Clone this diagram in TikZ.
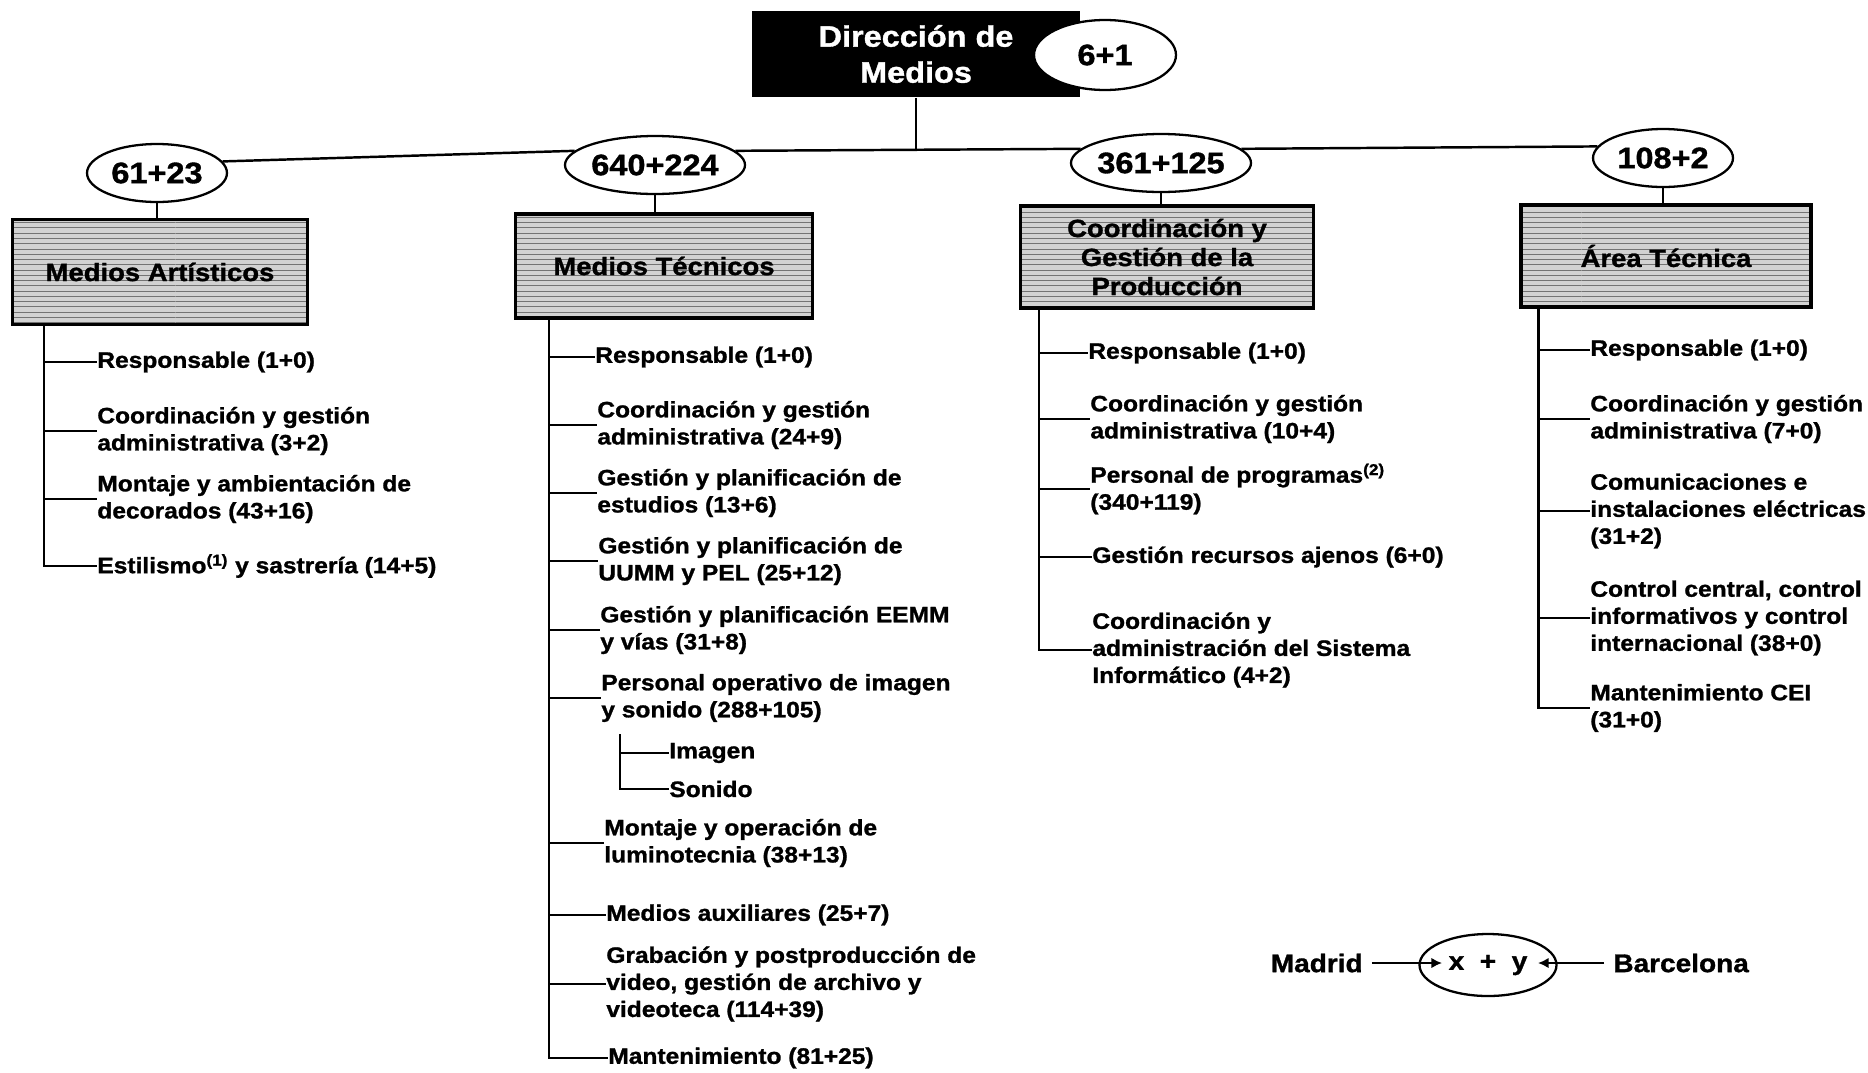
\documentclass[tikz,border=0pt]{standalone}
\usepackage{fontspec}
\newfontfamily\arialx{Liberation Sans}[FakeStretch=1.1, BoldFeatures={FakeBold=1.2}]
\usetikzlibrary{shapes.geometric,arrows.meta,calc,patterns}
\newcommand\itemfont{\arialx\bfseries\fontsize{12.7}{15.4}\selectfont}
\newcommand\titlefont{\arialx\bfseries\fontsize{14.2}{16.5}\selectfont}
\newcommand\numfont{\arialx\bfseries\fontsize{16.8}{20.5}\selectfont}
\newcommand\legfont{\arialx\bfseries\fontsize{14.5}{17}\selectfont}
\begin{document}
\begin{tikzpicture}[x=0.02cm,y=-0.02cm,
  conn/.style={line width=1.4pt},
  ell/.style={ellipse, draw, fill=white, line width=1.3pt, minimum width=2.8cm, minimum height=1.16cm, inner sep=0pt, font=\numfont},
  area/.style={draw, line width=1.9pt, preaction={fill=gray!35}, pattern=horizontal lines, pattern color=black!55, inner sep=0pt, align=center, font=\titlefont, minimum height=2.06cm},
  topbox/.style={fill=black, text=white, inner sep=0pt, align=center, font=\numfont, minimum width=6.56cm, minimum height=1.74cm},
  item/.style={anchor=west, inner sep=0pt, align=left, font=\itemfont},
  legend/.style={inner sep=0pt, font=\legfont}]
\path[use as bounding box, fill=white] (0,0) rectangle (1868,1072);

% top
\node[topbox] (top) at (916,54) {Dirección de\\Medios};
\node[ell, minimum width=2.84cm, minimum height=1.4cm] (e0) at (1105,55) {6+1};

% sub-totals
\node[ell] (e1) at (157,173) {61+23};
\node[ell] (e2) at (655,165) {640+224};
\node[ell] (e3) at (1161,163) {361+125};
\node[ell] (e4) at (1663,158) {108+2};

% areas
\node[area, minimum width=5.9cm, minimum height=2.1cm] (ma) at (160,272) {Medios Artísticos};
\node[area, minimum width=5.94cm, minimum height=2.08cm] (mt) at (664,266) {Medios Técnicos};
\node[area, minimum width=5.86cm, minimum height=2.04cm] (cg) at (1167,257) {Coordinación y\\Gestión de la\\Producción};
\node[area, minimum width=5.8cm, minimum height=2.04cm] (at) at (1666,256) {Área Técnica};

% connectors top level
\draw[conn] (e1.10) -- (e2.170);
\draw[conn] (e2.10) -- (e3.170);
\draw[conn] (e3.10) -- (e4.170);
\draw[conn] (top.south) -- (top.south |- e2.10);
\foreach \e/\b in {e1/ma, e2/mt, e3/cg, e4/at}
  \draw[conn] (\e.south) -- (\e.south |- \b.north);

% Medios Artisticos items
\node[item] (ma1) at (97,362) {Responsable (1+0)};
\node[item] (ma2) at (97,431) {Coordinación y gestión\\administrativa (3+2)};
\node[item] (ma3) at (97,499) {Montaje y ambientación de\\decorados (43+16)};
\node[item] (ma4) at (97,566) {Estilismo\textsuperscript{(1)} y sastrería (14+5)};
\coordinate (maT) at ($(ma.south west)+(33,0)$);
\draw[conn] (maT) |- (ma4.west);
\foreach \n in {ma1,ma2,ma3} \draw[conn] (maT |- \n.west) -- (\n.west);

% Medios Tecnicos items
\node[item] (mt1) at (595,357) {Responsable (1+0)};
\node[item] (mt2) at (597,425) {Coordinación y gestión\\administrativa (24+9)};
\node[item] (mt3) at (597,493) {Gestión y planificación de\\estudios (13+6)};
\node[item] (mt4) at (598,561) {Gestión y planificación de\\UUMM y PEL (25+12)};
\node[item] (mt5) at (600,630) {Gestión y planificación EEMM\\y vías (31+8)};
\node[item] (mt6) at (601,698) {Personal operativo de imagen\\y sonido (288+105)};
\node[item] (mtI) at (669,753) {Imagen};
\node[item] (mtS) at (669,789) {Sonido};
\node[item] (mt7) at (604,843) {Montaje y operación de\\luminotecnia (38+13)};
\node[item] (mt8) at (606,915) {Medios auxiliares (25+7)};
\node[item] (mt9) at (606,984) {Grabación y postproducción de\\video, gestión de archivo y\\videoteca (114+39)};
\node[item] (mt10) at (608,1058) {Mantenimiento (81+25)};
\coordinate (mtT) at ($(mt.south west)+(35,0)$);
\draw[conn] (mtT) |- (mt10.west);
\foreach \n in {mt1,mt2,mt3,mt4,mt5,mt6,mt7,mt8,mt9} \draw[conn] (mtT |- \n.west) -- (\n.west);
\coordinate (mtU) at ($(mt6.south west)+(19,12)$);
\draw[conn] (mtU) |- (mtS.west);
\draw[conn] (mtU |- mtI.west) -- (mtI.west);

% Coordinacion y Gestion items
\node[item] (cg1) at (1088,353) {Responsable (1+0)};
\node[item] (cg2) at (1090,419) {Coordinación y gestión\\administrativa (10+4)};
\node[item] (cg3) at (1090,489) {Personal de programas\textsuperscript{(2)}\\(340+119)};
\node[item] (cg4) at (1092,557) {Gestión recursos ajenos (6+0)};
\node[item] (cg5) at (1092,650) {Coordinación y\\administración del Sistema\\Informático (4+2)};
\coordinate (cgT) at ($(cg.south west)+(20,0)$);
\draw[conn] (cgT) |- (cg5.west);
\foreach \n in {cg1,cg2,cg3,cg4} \draw[conn] (cgT |- \n.west) -- (\n.west);

% Area Tecnica items
\node[item] (at1) at (1590,350) {Responsable (1+0)};
\node[item] (at2) at (1590,419) {Coordinación y gestión\\administrativa (7+0)};
\node[item] (at3) at (1590,511) {Comunicaciones e\\instalaciones eléctricas\\(31+2)};
\node[item] (at4) at (1590,618) {Control central, control\\informativos y control\\internacional (38+0)};
\node[item] (at5) at (1590,708) {Mantenimiento CEI\\(31+0)};
\coordinate (atT) at ($(at.south west)+(19,0)$);
\draw[conn] (atT) |- (at5.west);
\foreach \n in {at1,at2,at3,at4} \draw[conn] (atT |- \n.west) -- (\n.west);

% legend
\node[legend, anchor=east] (mad) at (1363,963) {Madrid};
\node[ell, minimum width=2.74cm, minimum height=1.24cm, font=\legfont] (lg) at (1488,965) {x\ \ +\ \ y};
\node[legend, anchor=west] (bar) at (1613,963) {Barcelona};
\draw[conn, -{Latex[length=6pt,width=6pt]}] ([xshift=5pt]mad.east) -- ($(lg.center)+(-46,-2)$);
\draw[conn, -{Latex[length=6pt,width=6pt]}] ([xshift=-5pt]bar.west) -- ($(lg.center)+(50,-2)$);
\end{tikzpicture}
\end{document}
